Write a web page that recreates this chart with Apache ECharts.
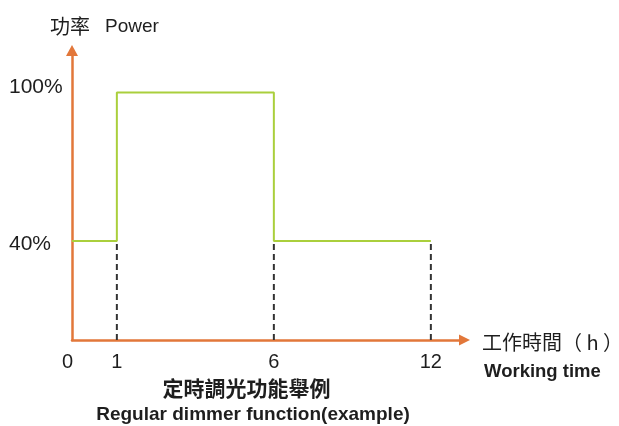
<!DOCTYPE html>
<html><head><meta charset="utf-8">
<script src="https://cdn.jsdelivr.net/npm/echarts@6/dist/echarts.min.js"></script>
<style>html,body{margin:0;padding:0;background:#fff}#c{width:619px;height:426px}</style>
</head><body><div id="c"></div>
<script>
// Time axis slots (schematic spacing); only hour ticks are labelled
const timeSlots = ['0','','','','1','','','','','','','','','','','','','','6','','','','','','','','','','','','','','12','','',''];
// Step profile: hour (category) and power (%)
const stepHours = ['0','1','1','6','6','12'];
const stepPower = [40, 40, 100, 100, 40, 40];
// Dashed guide lines at these hours, from 0 up to the low power level
const guideHours = ['1','6','12'];
const guideLevel = 40;
// Y tick labels shown
const yTickLabels = [40, 100];

const orange = '#E2773A';
const green = '#AACF3C';
const ink = '#1e1e1e';

const chart = echarts.init(document.getElementById('c'));
const series = [{
  type: 'line',
  data: stepHours.map((h, i) => [h, stepPower[i]]),
  symbol: 'none',
  lineStyle: {color: green, width: 2},
  z: 3
}];
guideHours.forEach(h => {
  series.push({
    type: 'line',
    data: [[h, 0], [h, guideLevel]],
    symbol: 'none',
    lineStyle: {color: '#333', width: 2, type: [6, 4]},
    z: 2
  });
});

chart.setOption({
  animation: false,
  grid: {left: 72, right: 154.5, top: 50.5, bottom: 86},
  xAxis: {
    type: 'category', data: timeSlots, boundaryGap: false,
    axisLine: {symbol: ['none', 'triangle'], symbolSize: [11, 11], lineStyle: {color: orange, width: 2.5}},
    axisTick: {show: false}, splitLine: {show: false},
    axisLabel: {
      interval: 0, margin: 12, fontSize: 20, color: ink, fontFamily: 'Liberation Sans',
      formatter: (v, i) => i === 0 ? '{z|' + v + '}' : v,
      rich: {z: {fontSize: 20, color: ink, fontFamily: 'Liberation Sans', padding: [0, 9, 0, 0]}}
    }
  },
  yAxis: {
    type: 'value', min: 0, max: 117, interval: 20,
    axisLine: {show: true, symbol: ['none', 'triangle'], symbolSize: [12, 11], lineStyle: {color: orange, width: 2.5}},
    axisTick: {show: false}, splitLine: {show: false},
    axisLabel: {
      align: 'left', margin: 63, fontSize: 21, color: ink, fontFamily: 'Liberation Sans',
      formatter: v => yTickLabels.indexOf(v) < 0 ? '' : (v === 100 ? '{hi|' + v + '%}' : '{lo|' + v + '%}'),
      rich: {
        hi: {fontSize: 21, color: ink, fontFamily: 'Liberation Sans', padding: [0, 0, 10, 0]},
        lo: {fontSize: 21, color: ink, fontFamily: 'Liberation Sans', padding: [6, 0, 0, 0]}
      }
    }
  },
  graphic: [
    {type: 'text', x: 50, y: 26, style: {text: '功率', font: '20px "Noto Sans CJK TC"', fill: ink, textVerticalAlign: 'middle'}},
    {type: 'text', x: 105, y: 27, style: {text: 'Power', font: '19px "Liberation Sans"', fill: ink, textVerticalAlign: 'middle'}},
    {type: 'text', x: 482, y: 342, style: {text: '工作時間（ h ）', font: '20px "Noto Sans CJK TC"', fill: ink, textVerticalAlign: 'middle'}},
    {type: 'text', x: 484, y: 372, style: {text: 'Working time', font: 'bold 18.5px "Liberation Sans"', fill: ink, textVerticalAlign: 'middle'}},
    {type: 'text', x: 246.5, y: 388.5, style: {text: '定時調光功能舉例', font: 'bold 21px "Noto Sans CJK TC"', fill: ink, textAlign: 'center', textVerticalAlign: 'middle'}},
    {type: 'text', x: 253, y: 415, style: {text: 'Regular dimmer function(example)', font: 'bold 19px "Liberation Sans"', fill: ink, textAlign: 'center', textVerticalAlign: 'middle'}}
  ],
  series: series
});
</script>
</body></html>
